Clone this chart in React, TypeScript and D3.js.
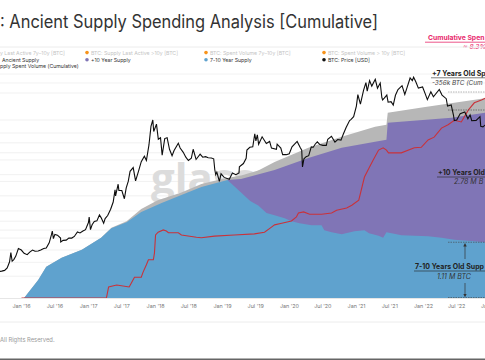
import React from 'react';
import * as d3 from 'd3';

const W = 485;
const H = 360;

// BTC price [USD]
const priceData: [string, number][] = [
  ['2015-09-01', 230], ['2015-09-15', 232], ['2015-10-01', 237], ['2015-10-15', 255], ['2015-10-28', 305],
  ['2015-11-04', 400], ['2015-11-11', 310], ['2015-11-20', 325], ['2015-12-01', 360], ['2015-12-15', 450],
  ['2015-12-31', 430], ['2016-01-15', 390], ['2016-02-01', 375], ['2016-02-15', 405], ['2016-03-01', 430],
  ['2016-03-15', 415], ['2016-04-01', 418], ['2016-04-15', 430], ['2016-05-01', 450], ['2016-05-15', 455],
  ['2016-05-31', 530], ['2016-06-12', 670], ['2016-06-17', 750], ['2016-06-23', 600], ['2016-07-01', 680],
  ['2016-07-15', 665], ['2016-08-01', 610], ['2016-08-02', 545], ['2016-08-15', 570], ['2016-09-01', 575],
  ['2016-09-15', 610], ['2016-10-01', 610], ['2016-10-15', 640], ['2016-11-01', 730], ['2016-11-15', 710],
  ['2016-12-01', 750], ['2016-12-15', 780], ['2016-12-31', 960], ['2017-01-04', 1130], ['2017-01-11', 780],
  ['2017-01-20', 900], ['2017-02-01', 990], ['2017-02-15', 1010], ['2017-03-01', 1200], ['2017-03-10', 1110],
  ['2017-03-24', 940], ['2017-04-01', 1080], ['2017-04-15', 1180], ['2017-05-01', 1420], ['2017-05-15', 1750],
  ['2017-05-25', 2500], ['2017-05-28', 2100], ['2017-06-11', 2950], ['2017-06-15', 2450], ['2017-07-01', 2450],
  ['2017-07-15', 1930], ['2017-07-25', 2650], ['2017-08-05', 3200], ['2017-08-15', 4300], ['2017-09-01', 4800],
  ['2017-09-14', 3250], ['2017-10-01', 4400], ['2017-10-15', 5700], ['2017-11-01', 6700], ['2017-11-12', 5900],
  ['2017-11-26', 9300], ['2017-12-07', 16000], ['2017-12-17', 19300], ['2017-12-22', 13800], ['2018-01-06', 17100],
  ['2018-01-16', 11000], ['2018-01-28', 11500], ['2018-02-06', 6900], ['2018-02-20', 11200], ['2018-03-05', 11500],
  ['2018-03-18', 8200], ['2018-04-01', 6800], ['2018-04-12', 7900], ['2018-05-05', 9800], ['2018-05-15', 8500],
  ['2018-06-01', 7500], ['2018-06-15', 6500], ['2018-06-29', 5900], ['2018-07-15', 6300], ['2018-07-25', 8200],
  ['2018-08-10', 6100], ['2018-08-15', 6300], ['2018-09-01', 7100], ['2018-09-15', 6500], ['2018-10-01', 6600],
  ['2018-10-15', 6400], ['2018-11-01', 6350], ['2018-11-14', 6200], ['2018-11-20', 4500], ['2018-11-25', 3900],
  ['2018-12-01', 4200], ['2018-12-15', 3200], ['2018-12-24', 4000], ['2019-01-10', 3600], ['2019-02-07', 3400],
  ['2019-02-24', 4100], ['2019-03-15', 3900], ['2019-04-01', 4100], ['2019-04-03', 4900], ['2019-04-25', 5400],
  ['2019-05-10', 6300], ['2019-05-14', 8000], ['2019-05-30', 8700], ['2019-06-15', 8800], ['2019-06-26', 12900],
  ['2019-07-02', 10500], ['2019-07-10', 12500], ['2019-07-17', 9500], ['2019-08-05', 11800], ['2019-08-28', 9700],
  ['2019-09-15', 10300], ['2019-09-25', 8500], ['2019-10-22', 8200], ['2019-10-26', 9500], ['2019-11-15', 8500],
  ['2019-11-25', 7000], ['2019-12-15', 7000], ['2019-12-31', 7200], ['2020-01-15', 8800], ['2020-02-12', 10300],
  ['2020-02-28', 8700], ['2020-03-08', 8000], ['2020-03-12', 4900], ['2020-03-20', 6200], ['2020-04-01', 6600],
  ['2020-04-15', 6800], ['2020-04-29', 8800], ['2020-05-10', 8700], ['2020-05-20', 9500], ['2020-06-01', 10200],
  ['2020-06-15', 9400], ['2020-07-01', 9200], ['2020-07-20', 9200], ['2020-07-28', 11000], ['2020-08-17', 12000],
  ['2020-09-05', 10100], ['2020-09-20', 10900], ['2020-10-08', 10700], ['2020-10-21', 12800], ['2020-11-05', 15500],
  ['2020-11-24', 19000], ['2020-12-01', 19500], ['2020-12-16', 21300], ['2020-12-31', 29000], ['2021-01-08', 40500],
  ['2021-01-22', 30800], ['2021-02-08', 46000], ['2021-02-21', 57500], ['2021-02-28', 45000], ['2021-03-13', 61000],
  ['2021-03-25', 52000], ['2021-04-13', 63500], ['2021-04-25', 49000], ['2021-05-10', 57000], ['2021-05-19', 37000],
  ['2021-05-23', 34700], ['2021-06-01', 36600], ['2021-06-15', 40000], ['2021-06-22', 32500], ['2021-07-08', 33000],
  ['2021-07-20', 29800], ['2021-08-01', 39800], ['2021-08-15', 47000], ['2021-09-06', 52700], ['2021-09-21', 40700],
  ['2021-10-01', 48000], ['2021-10-20', 66000], ['2021-11-01', 61000], ['2021-11-08', 67500], ['2021-11-20', 59000],
  ['2021-12-04', 49000], ['2021-12-27', 50700], ['2022-01-10', 41800], ['2022-01-22', 35000], ['2022-02-10', 44000],
  ['2022-02-24', 38000], ['2022-03-28', 47100], ['2022-04-12', 40000], ['2022-05-05', 36000], ['2022-05-12', 29000],
  ['2022-06-01', 30000], ['2022-06-13', 22500], ['2022-06-18', 19000], ['2022-07-01', 19300], ['2022-07-20', 23200],
  ['2022-08-14', 24400], ['2022-08-31', 20000], ['2022-09-12', 22400], ['2022-09-21', 18900], ['2022-10-15', 19100],
  ['2022-11-05', 21300], ['2022-11-09', 16000], ['2022-11-21', 15800], ['2022-12-10', 17200],
];

// 7-10 Year Supply [M BTC]
const sevenToTenSupply: [string, number][] = [
  ['2016-01-15', 0], ['2016-04-01', 0.36], ['2016-05-15', 0.62], ['2016-08-07', 0.8], ['2016-11-25', 0.96],
  ['2017-03-10', 1.2], ['2017-05-05', 1.39], ['2017-07-27', 1.51], ['2017-10-15', 1.71], ['2018-02-03', 1.89],
  ['2018-05-22', 2.05], ['2018-09-08', 2.21], ['2019-01-28', 2.35], ['2019-04-12', 2.1], ['2019-06-01', 1.93],
  ['2019-07-15', 1.84], ['2019-08-29', 1.69], ['2019-10-12', 1.65], ['2019-12-06', 1.59], ['2020-01-12', 1.53],
  ['2020-02-25', 1.49], ['2020-05-01', 1.45], ['2020-06-24', 1.45], ['2020-07-09', 1.35], ['2020-08-18', 1.31],
  ['2020-10-12', 1.27], ['2020-12-20', 1.33], ['2021-02-13', 1.35], ['2021-03-10', 1.29], ['2021-05-01', 1.24],
  ['2021-05-26', 1.2], ['2021-06-13', 1.31], ['2021-08-07', 1.27], ['2021-09-02', 1.25], ['2022-01-26', 1.23],
  ['2022-04-09', 1.2], ['2022-06-18', 1.16], ['2022-10-05', 1.13], ['2022-12-09', 1.11],
];

// 7-10 + (+10 Year Supply) stacked total [M BTC]
const tenPlusStackedSupply: [string, number][] = [
  ['2019-01-28', 2.35], ['2019-04-12', 2.37], ['2019-10-12', 2.55], ['2020-04-13', 2.79], ['2020-10-12', 2.99],
  ['2021-04-12', 3.11], ['2021-06-13', 3.15], ['2021-06-20', 3.49], ['2022-06-03', 3.59], ['2022-12-09', 3.69],
];

// Ancient Supply [M BTC]
const ancientSupply: [string, number][] = [
  ['2016-01-15', 0], ['2016-04-01', 0.36], ['2016-05-15', 0.62], ['2016-08-07', 0.8], ['2016-11-25', 0.96],
  ['2017-03-10', 1.2], ['2017-05-05', 1.4], ['2017-07-27', 1.53], ['2017-10-15', 1.77], ['2018-01-10', 1.94],
  ['2018-05-22', 2.1], ['2018-09-08', 2.27], ['2019-01-10', 2.38], ['2019-04-12', 2.44], ['2019-07-15', 2.54],
  ['2019-10-12', 2.71], ['2020-04-13', 2.99], ['2020-10-12', 3.21], ['2021-04-12', 3.41], ['2021-06-13', 3.45],
  ['2021-06-20', 3.69], ['2022-01-01', 3.8], ['2022-12-09', 3.98],
];

// Supply Spent Volume (Cumulative) [k BTC]
const cumulativeSpent: [string, number][] = [
  ['2016-01-01', 0], ['2017-04-08', 0], ['2017-04-20', 19.6], ['2017-06-03', 23], ['2017-08-10', 19.6],
  ['2017-08-22', 26.7], ['2017-09-08', 37], ['2017-10-15', 37], ['2017-10-25', 46], ['2017-11-12', 59],
  ['2017-11-23', 68], ['2017-12-20', 68], ['2017-12-26', 80], ['2018-01-01', 112], ['2018-01-15', 117],
  ['2018-02-12', 121], ['2018-03-01', 119], ['2018-03-12', 116], ['2018-05-05', 116], ['2018-05-22', 112],
  ['2018-08-12', 108], ['2018-09-08', 107], ['2018-11-18', 110], ['2019-03-06', 112], ['2019-06-24', 114],
  ['2019-08-18', 117], ['2019-09-25', 126], ['2019-10-12', 130], ['2019-11-20', 133], ['2020-01-12', 137],
  ['2020-02-08', 144], ['2020-02-19', 151], ['2020-03-18', 153], ['2020-04-20', 149], ['2020-06-24', 149],
  ['2020-08-18', 151], ['2020-09-14', 156], ['2020-11-08', 160], ['2020-12-06', 165], ['2021-01-13', 174],
  ['2021-02-13', 215], ['2021-03-10', 231], ['2021-04-01', 245], ['2021-05-01', 263], ['2021-05-26', 267],
  ['2021-06-13', 263], ['2021-06-24', 258], ['2021-09-02', 258], ['2021-11-12', 267], ['2021-12-20', 268],
  ['2022-01-26', 281], ['2022-02-28', 286], ['2022-04-09', 302], ['2022-05-15', 308], ['2022-06-18', 316],
  ['2022-07-26', 313], ['2022-09-02', 334], ['2022-10-05', 347], ['2022-11-13', 352], ['2022-12-09', 356],
];

const xTickDates = [
  '2016-01-01', '2016-07-01', '2017-01-01', '2017-07-01', '2018-01-01', '2018-07-01', '2019-01-01',
  '2019-07-01', '2020-01-01', '2020-07-01', '2021-01-01', '2021-07-01', '2022-01-01', '2022-07-01', '2023-01-01',
];

const priceGridTicks = [
  200, 300, 430, 610, 770, 1000, 1350, 2100, 3200, 3900, 6000, 7400, 9900, 13200, 19300, 42500, 57000, 74000,
];

const legendRow1 = [
  { label: 'y Last Active 7y–10y [BTC]', dot: false },
  { label: 'BTC: Supply Last Active >10y [BTC]', dot: true },
  { label: 'BTC: Spent Volume 7y–10y [BTC]', dot: true },
  { label: 'BTC: Spent Volume > 10y [BTC]', dot: true },
];
const legendRow2 = [
  { label: 'Ancient Supply', color: '' },
  { label: '+10 Year Supply', color: '#8075b6' },
  { label: '7-10 Year Supply', color: '#5fa2ce' },
  { label: 'BTC: Price [USD]', color: '#111111' },
];

const COLORS = {
  grey: '#b7b7b7',
  purple: '#8075b6',
  blue: '#5fa2ce',
  red: '#c9323a',
  price: '#0d0d0d',
  pink: '#e8286c',
};

export default function App() {
  const parse = d3.utcParse('%Y-%m-%d');
  const toPts = (arr: [string, number][]) => arr.map(([d, v]) => [parse(d) as Date, v] as [Date, number]);

  const top = 70;
  const bottom = 298;
  const x = d3.scaleUtc().domain([parse('2016-01-01')!, parse('2022-07-01')!]).range([21.5, 456.7]);
  const yPrice = d3.scaleLog().domain([105.7, 78600]).range([bottom, 72]);
  const ySupply = d3.scaleLinear().domain([0, 4.5]).range([bottom, 72]);
  const ySpent = d3.scaleLinear().domain([0, 400]).range([bottom, 73]);

  const areaGen = d3
    .area<[Date, number]>()
    .x((d) => x(d[0]))
    .y0(ySupply(0))
    .y1((d) => ySupply(d[1]));

  const priceLine = d3
    .line<[Date, number]>()
    .x((d) => x(d[0]))
    .y((d) => yPrice(d[1]));
  const spentLine = d3
    .line<[Date, number]>()
    .x((d) => x(d[0]))
    .y((d) => ySpent(d[1]));

  const fmt = d3.utcFormat("%b '%y");
  const legendX = [0, 87, 206, 324];
  const font = 'Inter, "Noto Sans", sans-serif';
  const lastBlue = sevenToTenSupply[sevenToTenSupply.length - 1][1];
  const yBlueTop = ySupply(lastBlue);
  const y0 = ySupply(0);

  return (
    <svg
      width={W}
      height={H}
      viewBox={`0 0 ${W} ${H}`}
      style={{ position: 'absolute', left: 0, top: 0, background: '#fff', fontFamily: font }}
    >
      <defs>
        <clipPath id="plot">
          <rect x={0} y={top} width={W} height={bottom - top + 1} />
        </clipPath>
        <marker id="arr" viewBox="0 0 6 6" refX="3" refY="3" markerWidth="5" markerHeight="5" orient="auto">
          <path d="M0,0 L6,3 L0,6 Z" fill="#333" />
        </marker>
      </defs>

      {/* Title */}
      <text x={0} y={28} fontSize={18} fill="#333" textLength={378} lengthAdjust="spacingAndGlyphs">
        : Ancient Supply Spending Analysis [Cumulative]
      </text>

      {/* Pink note */}
      <text x={428} y={40} fontSize={6.8} fontWeight={700} fill={COLORS.pink}>
        Cumulative Spen
      </text>
      <line x1={425} x2={W} y1={42.2} y2={42.2} stroke={COLORS.pink} strokeWidth={0.8} />
      <text x={463} y={48.5} fontSize={6.8} fontStyle="italic" fill={COLORS.pink}>
        ~ 8.3%
      </text>

      <line x1={0} x2={W} y1={47} y2={47} stroke="#ececec" strokeWidth={1} />

      {/* Legend */}
      {legendRow1.map((l, i) => (
        <g key={'l1' + i}>
          {l.dot && <circle cx={legendX[i]} cy={52.6} r={1.8} fill="#f7931a" />}
          <text x={legendX[i] + (l.dot ? 4 : 0)} y={54.6} fontSize={5.2} fill="#c4c4c4">
            {l.label}
          </text>
        </g>
      ))}
      {legendRow2.map((l, i) => (
        <g key={'l2' + i}>
          {l.color && <circle cx={legendX[i]} cy={59.8} r={1.8} fill={l.color} />}
          <text x={legendX[i] + (l.color ? 4 : 2)} y={61.8} fontSize={5.2} fill="#333">
            {l.label}
          </text>
        </g>
      ))}
      <text x={0} y={68.4} fontSize={5.2} fill="#333">
        pply Spent Volume (Cumulative)
      </text>

      {/* Grid */}
      {priceGridTicks.map((p) => (
        <line key={p} x1={0} x2={W} y1={yPrice(p)} y2={yPrice(p)} stroke="#ededed" strokeWidth={0.8} />
      ))}

      <g clipPath="url(#plot)">
        {/* Watermark */}
        <text x={151} y={193} fontSize={42} fontWeight={700} fill="#dcdcdc" fontFamily='"Open Sans", sans-serif'>
          glassnode
        </text>

        <path d={areaGen(toPts(ancientSupply)) || ''} fill={COLORS.grey} />
        <path d={areaGen(toPts(tenPlusStackedSupply)) || ''} fill={COLORS.purple} />
        <path d={areaGen(toPts(sevenToTenSupply)) || ''} fill={COLORS.blue} />

        <path d={spentLine(toPts(cumulativeSpent)) || ''} fill="none" stroke={COLORS.red} strokeWidth={1.1} />
        <path d={priceLine(toPts(priceData)) || ''} fill="none" stroke={COLORS.price} strokeWidth={1.1} />
      </g>

      <line x1={0} x2={W} y1={bottom + 0.5} y2={bottom + 0.5} stroke="#e6e6e6" strokeWidth={1} />

      {/* X axis */}
      {xTickDates.map((d) => {
        const dt = parse(d)!;
        return (
          <text key={d} x={x(dt)} y={308} fontSize={5.4} fill="#777" textAnchor="middle">
            {fmt(dt)}
          </text>
        );
      })}

      {/* Annotations */}
      <text x={432} y={76} fontSize={7} fontWeight={700} fill="#222">
        +7 Years Old Sp
      </text>
      <line x1={431} x2={W} y1={77.8} y2={77.8} stroke="#222" strokeWidth={0.6} />
      <text x={432} y={84.5} fontSize={6.4} fontStyle="italic" fill="#444">
        -356k BTC (Cum
      </text>
      <line x1={448} x2={W} y1={92} y2={92} stroke="#888" strokeWidth={0.6} strokeDasharray="1.5,1" />
      <line x1={448} x2={W} y1={110} y2={110} stroke="#444" strokeWidth={0.6} strokeDasharray="1.5,1" />

      <text x={438} y={175} fontSize={7} fontWeight={700} fill="#222">
        +10 Years Old
      </text>
      <line x1={437} x2={W} y1={177} y2={177} stroke="#222" strokeWidth={0.6} />
      <text x={454} y={184} fontSize={7} fontStyle="italic" fill="#333">
        2.78 M B
      </text>

      <line x1={448} x2={W} y1={yBlueTop} y2={yBlueTop} stroke="#444" strokeWidth={0.6} strokeDasharray="1.5,1" />
      <line x1={465} x2={465} y1={259} y2={yBlueTop + 2.5} stroke="#333" strokeWidth={0.7} markerEnd="url(#arr)" />
      <text x={415} y={269} fontSize={7} fontWeight={700} fill="#222">
        7-10 Years Old Supp
      </text>
      <line x1={414} x2={W} y1={271} y2={271} stroke="#222" strokeWidth={0.6} />
      <text x={437} y={279} fontSize={7} fontStyle="italic" fill="#333">
        1.11 M BTC
      </text>
      <line x1={465} x2={465} y1={283} y2={y0 - 2.5} stroke="#333" strokeWidth={0.7} markerEnd="url(#arr)" />
      <line x1={448} x2={W} y1={y0 - 0.5} y2={y0 - 0.5} stroke="#444" strokeWidth={0.6} strokeDasharray="1.5,1" />

      {/* Footer */}
      <line x1={0} x2={W} y1={322} y2={322} stroke="#ececec" strokeWidth={1} />
      <text x={0} y={342} fontSize={5.8} fill="#999">
        All Rights Reserved.
      </text>
      <rect x={0} y={358.5} width={W} height={1.5} fill="#666" />
    </svg>
  );
}
